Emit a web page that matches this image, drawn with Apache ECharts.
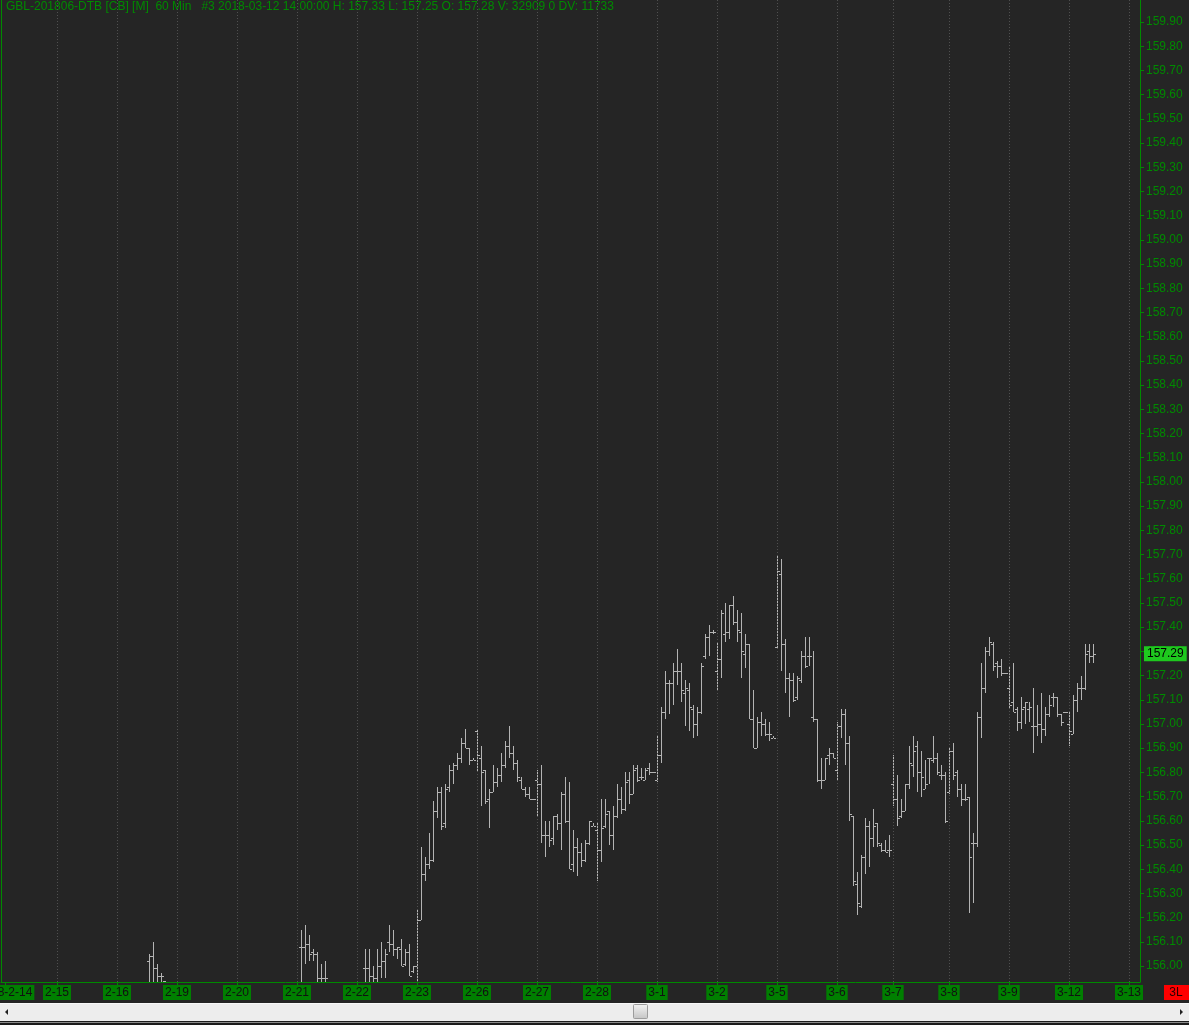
<!DOCTYPE html>
<html>
<head>
<meta charset="utf-8">
<title>GBL-201806-DTB 60 Min</title>
<script src="https://cdn.jsdelivr.net/npm/echarts@6/dist/echarts.min.js"></script>
<style>
  html, body { margin: 0; padding: 0; background: #252525; }
  #chart { width: 1189px; height: 1025px; }
</style>
</head>
<body>
<div id="chart"></div>
<script>
// 日期标签（每个交易日第一根K线处）
const dayLabels = ['2018-2-14', '2-15', '2-16', '2-19', '2-20', '2-21', '2-22', '2-23', '2-26', '2-27',
  '2-28', '3-1', '3-2', '3-5', '3-6', '3-7', '3-8', '3-9', '3-12', '3-13']
const dayStarts = [0, 13, 28, 43, 58, 73, 88, 103, 118, 133, 148, 163, 178, 193, 208, 222, 236, 251, 266, 281]

// 右侧价格刻度
const priceTicks = ['156.00', '156.10', '156.20', '156.30', '156.40', '156.50', '156.60', '156.70', '156.80',
  '156.90', '157.00', '157.10', '157.20', '157.30', '157.40', '157.50', '157.60', '157.70', '157.80',
  '157.90', '158.00', '158.10', '158.20', '158.30', '158.40', '158.50', '158.60', '158.70', '158.80',
  '158.90', '159.00', '159.10', '159.20', '159.30', '159.40', '159.50', '159.60', '159.70', '159.80', '159.90']

// 60分钟K线 (可见部分): 序号, 开, 高, 低, 收
const barIndex = [36, 37, 38, 39, 40,
  74, 75, 76, 77, 78, 79, 80,
  90, 91, 92, 93, 94, 95, 96, 97, 98, 99, 100, 101, 102, 103,
  104, 105, 106, 107, 108, 109, 110, 111, 112, 113, 114, 115, 116, 117,
  118, 119, 120, 121, 122, 123, 124, 125, 126, 127, 128, 129, 130, 131, 132,
  133, 134, 135, 136, 137, 138, 139, 140, 141, 142, 143, 144, 145, 146, 147,
  148, 149, 150, 151, 152, 153, 154, 155, 156, 157, 158, 159, 160, 161, 162,
  163, 164, 165, 166, 167, 168, 169, 170, 171, 172, 173, 174, 175, 176, 177,
  178, 179, 180, 181, 182, 183, 184, 185, 186, 187, 188, 189, 190, 191, 192,
  193, 194, 195, 196, 197, 198, 199, 200, 201, 202, 203, 204, 205, 206, 207,
  208, 209, 210, 211, 212, 213, 214, 215, 216, 217, 218, 219, 220, 221,
  222, 223, 224, 225, 226, 227, 228, 229, 230, 231, 232, 233, 234, 235,
  236, 237, 238, 239, 240, 241, 242, 243, 244, 245, 246, 247, 248, 249, 250,
  251, 252, 253, 254, 255, 256, 257, 258, 259, 260, 261, 262, 263, 264, 265,
  266, 267, 268, 269, 270, 271, 272]
const opens = [156.02, 156.04, 155.99, 155.96, 155.94,
  156.08, 156.08, 156.09, 156.06, 156.05, 155.95, 155.95,
  155.99, 155.99, 155.96, 155.95, 156.00, 156.02, 156.10, 156.09, 156.07, 156.07, 156.01, 156.06, 155.98, 156.00,
  156.19, 156.38, 156.42, 156.44, 156.64, 156.72, 156.59, 156.74, 156.81, 156.83, 156.86, 156.92, 156.90, 156.85,
  156.97, 156.86, 156.81, 156.69, 156.72, 156.76, 156.79, 156.83, 156.91, 156.88, 156.84, 156.77, 156.73, 156.71, 156.69,
  156.77, 156.75, 156.54, 156.54, 156.53, 156.62, 156.59, 156.71, 156.60, 156.42, 156.49, 156.47, 156.44, 156.51, 156.58,
  156.56, 156.48, 156.58, 156.64, 156.54, 156.62, 156.69, 156.65, 156.77, 156.71, 156.82, 156.78, 156.77, 156.82, 156.80,
  156.77, 156.87, 157.05, 157.17, 157.17, 157.22, 157.22, 157.13, 157.14, 157.06, 157.00, 157.05, 157.28, 157.36, 157.38,
  157.22, 157.27, 157.37, 157.38, 157.49, 157.42, 157.38, 157.29, 157.33, 157.02, 156.90, 157.01, 157.00, 156.96, 156.94,
  157.32, 157.62, 157.33, 157.19, 157.18, 157.11, 157.18, 157.28, 157.28, 157.03, 157.02, 156.77, 156.77, 156.87, 156.88,
  156.81, 156.99, 157.04, 156.92, 156.62, 156.34, 156.25, 156.45, 156.58, 156.53, 156.59, 156.50, 156.48, 156.48,
  156.75, 156.69, 156.62, 156.64, 156.75, 156.83, 156.91, 156.80, 156.73, 156.86, 156.85, 156.86, 156.79, 156.79,
  156.72, 156.89, 156.80, 156.73, 156.69, 156.70, 156.51, 156.51, 157.03, 157.15, 157.30, 157.33, 157.25, 157.24, 157.21,
  157.15, 157.09, 157.06, 157.01, 157.07, 157.06, 156.99, 156.99, 157.00, 156.98, 157.04, 157.11, 157.11, 157.04, 157.05,
  157.00, 156.96, 157.10, 157.15, 157.15, 157.30, 157.28]
const highs = [156.05, 156.10, 156.01, 155.97, 155.94,
  156.15, 156.17, 156.13, 156.07, 156.06, 156.01, 156.02,
  156.07, 156.07, 156.00, 156.07, 156.10, 156.07, 156.17, 156.15, 156.08, 156.11, 156.07, 156.09, 156.00, 156.23,
  156.49, 156.45, 156.55, 156.68, 156.74, 156.74, 156.75, 156.83, 156.84, 156.88, 156.94, 156.98, 156.90, 156.86,
  156.98, 156.91, 156.81, 156.73, 156.83, 156.82, 156.88, 156.93, 156.99, 156.91, 156.85, 156.78, 156.74, 156.74, 156.69,
  156.81, 156.83, 156.60, 156.60, 156.62, 156.63, 156.72, 156.78, 156.76, 156.56, 156.53, 156.51, 156.52, 156.60, 156.59,
  156.59, 156.69, 156.69, 156.64, 156.66, 156.75, 156.74, 156.80, 156.80, 156.83, 156.83, 156.82, 156.82, 156.84, 156.80,
  156.95, 157.07, 157.22, 157.18, 157.25, 157.31, 157.25, 157.18, 157.17, 157.08, 157.07, 157.25, 157.37, 157.41, 157.39,
  157.34, 157.47, 157.50, 157.49, 157.53, 157.47, 157.46, 157.37, 157.33, 157.14, 157.03, 157.05, 157.02, 157.01, 156.95,
  157.70, 157.68, 157.35, 157.21, 157.21, 157.20, 157.30, 157.36, 157.36, 157.30, 157.02, 156.86, 156.86, 156.90, 156.88,
  157.01, 157.06, 157.06, 156.95, 156.62, 156.39, 156.46, 156.61, 156.60, 156.65, 156.59, 156.51, 156.52, 156.54,
  156.87, 156.79, 156.69, 156.75, 156.91, 156.95, 156.93, 156.89, 156.85, 156.86, 156.95, 156.88, 156.83, 156.80,
  156.90, 156.92, 156.81, 156.75, 156.75, 156.70, 156.55, 157.05, 157.25, 157.32, 157.36, 157.34, 157.26, 157.27, 157.21,
  157.24, 157.25, 157.07, 157.11, 157.09, 157.09, 157.15, 157.08, 157.13, 157.07, 157.12, 157.13, 157.11, 157.04, 157.05,
  157.05, 157.12, 157.17, 157.20, 157.33, 157.33, 157.33]
const lows = [155.88, 155.88, 155.88, 155.88, 155.88,
  155.88, 156.01, 156.02, 156.02, 155.88, 155.88, 155.88,
  155.88, 155.88, 155.92, 155.90, 155.95, 155.95, 156.06, 156.04, 156.03, 156.00, 156.00, 155.96, 155.97, 155.90,
  156.19, 156.35, 156.40, 156.43, 156.61, 156.56, 156.57, 156.72, 156.75, 156.81, 156.84, 156.90, 156.83, 156.85,
  156.80, 156.66, 156.67, 156.57, 156.72, 156.74, 156.76, 156.82, 156.86, 156.81, 156.76, 156.73, 156.70, 156.69, 156.69,
  156.62, 156.51, 156.45, 156.49, 156.50, 156.56, 156.48, 156.59, 156.40, 156.39, 156.37, 156.41, 156.43, 156.50, 156.58,
  156.35, 156.43, 156.57, 156.50, 156.48, 156.61, 156.63, 156.64, 156.67, 156.71, 156.76, 156.77, 156.77, 156.79, 156.80,
  156.76, 156.84, 157.02, 157.04, 157.08, 157.16, 157.09, 156.99, 156.97, 156.94, 156.95, 157.04, 157.27, 157.28, 157.37,
  157.14, 157.19, 157.34, 157.35, 157.41, 157.34, 157.19, 157.23, 157.02, 156.90, 156.90, 156.95, 156.95, 156.93, 156.94,
  157.31, 157.22, 157.13, 157.03, 157.09, 157.10, 157.17, 157.23, 157.24, 157.01, 156.76, 156.73, 156.77, 156.83, 156.86,
  156.77, 156.94, 156.83, 156.60, 156.33, 156.21, 156.24, 156.38, 156.41, 156.49, 156.49, 156.47, 156.47, 156.45,
  156.66, 156.58, 156.61, 156.64, 156.73, 156.78, 156.72, 156.70, 156.73, 156.75, 156.84, 156.79, 156.77, 156.59,
  156.71, 156.77, 156.70, 156.66, 156.68, 156.22, 156.26, 156.49, 156.94, 157.13, 157.28, 157.22, 157.19, 157.20, 157.21,
  157.06, 157.05, 156.97, 156.98, 157.00, 157.01, 156.88, 156.95, 156.92, 156.95, 157.03, 157.07, 157.03, 156.99, 157.05,
  156.91, 156.96, 157.05, 157.10, 157.14, 157.25, 157.25]
const closes = [156.04, 155.99, 155.96, 155.96, 155.92,
  156.08, 156.09, 156.05, 156.05, 155.95, 155.95, 155.95,
  155.99, 155.96, 155.95, 156.00, 156.02, 156.05, 156.09, 156.07, 156.08, 156.00, 156.06, 155.96, 156.00, 156.19,
  156.38, 156.42, 156.44, 156.64, 156.72, 156.58, 156.73, 156.81, 156.83, 156.86, 156.92, 156.90, 156.85, 156.85,
  156.87, 156.80, 156.68, 156.72, 156.76, 156.79, 156.83, 156.91, 156.88, 156.84, 156.78, 156.73, 156.71, 156.69, 156.69,
  156.75, 156.54, 156.54, 156.52, 156.62, 156.59, 156.71, 156.60, 156.40, 156.49, 156.47, 156.44, 156.51, 156.60, 156.58,
  156.48, 156.57, 156.63, 156.54, 156.62, 156.69, 156.65, 156.76, 156.71, 156.81, 156.77, 156.78, 156.81, 156.80, 156.80,
  156.87, 157.05, 157.17, 157.17, 157.22, 157.22, 157.14, 157.15, 157.07, 157.00, 157.05, 157.24, 157.36, 157.38, 157.38,
  157.27, 157.46, 157.38, 157.49, 157.42, 157.39, 157.30, 157.33, 157.02, 156.90, 157.01, 157.00, 156.96, 156.96, 156.94,
  157.63, 157.33, 157.19, 157.18, 157.10, 157.19, 157.28, 157.24, 157.28, 157.02, 156.77, 156.77, 156.86, 156.88, 156.86,
  156.99, 157.04, 156.92, 156.63, 156.35, 156.26, 156.45, 156.58, 156.53, 156.58, 156.51, 156.48, 156.47, 156.48,
  156.69, 156.61, 156.64, 156.75, 156.84, 156.89, 156.80, 156.78, 156.75, 156.86, 156.86, 156.80, 156.79, 156.60,
  156.89, 156.79, 156.73, 156.69, 156.69, 156.45, 156.51, 157.03, 157.15, 157.30, 157.34, 157.24, 157.24, 157.21, 157.21,
  157.08, 157.05, 157.01, 157.06, 157.09, 157.07, 156.99, 157.00, 156.98, 157.04, 157.08, 157.11, 157.04, 157.01, 157.05,
  156.97, 157.10, 157.15, 157.15, 157.29, 157.28, 157.29]

const green = '#008a00'
const barColor = '#b4b4b4'
const fontFamily = 'Liberation Sans, Arial, sans-serif'

const ohlc = barIndex.map((i, k) => [i, opens[k], highs[k], lows[k], closes[k]])
const lastClose = closes[closes.length - 1]

const chart = echarts.init(document.getElementById('chart'))

// 美式K线: 竖线 + 左开盘 + 右收盘
const renderBar = (params, api) => {
  const x = Math.round(api.coord([api.value(0), 0])[0])
  const yO = Math.round(api.coord([0, api.value(1)])[1])
  const yH = Math.round(api.coord([0, api.value(2)])[1])
  const yL = Math.round(api.coord([0, api.value(3)])[1])
  const yC = Math.round(api.coord([0, api.value(4)])[1])
  const style = { fill: barColor }
  return {
    type: 'group',
    children: [
      { type: 'rect', shape: { x: x, y: yH, width: 1, height: Math.max(1, yL - yH) }, style },
      { type: 'rect', shape: { x: x - 2, y: yO, width: 2, height: 1 }, style },
      { type: 'rect', shape: { x: x + 1, y: yC, width: 2, height: 1 }, style }
    ]
  }
}

const option = {
  animation: false,
  backgroundColor: '#252525',
  textStyle: { fontFamily },
  title: {
    text: 'GBL-201806-DTB [CB] [M]  60 Min   #3 2018-03-12 14:00:00 H: 157.33 L: 157.25 O: 157.28 V: 32909 0 DV: 11733',
    left: 6,
    top: 1,
    padding: 0,
    textStyle: { color: green, fontSize: 12, fontWeight: 'normal', fontFamily }
  },
  grid: {
    left: 1,
    right: 49,
    top: 0,
    bottom: 43,
    outerBoundsMode: 'none'
  },
  xAxis: {
    type: 'value',
    min: -1,
    max: 283.75,
    axisLine: { onZero: false, lineStyle: { color: green } },
    axisTick: { customValues: dayStarts, length: 3, lineStyle: { color: green } },
    axisLabel: {
      customValues: dayStarts,
      formatter: (v) => dayLabels[dayStarts.indexOf(v)] || '',
      color: '#111',
      backgroundColor: '#007f00',
      padding: [1, 2, 1, 2],
      lineHeight: 13,
      fontSize: 12,
      margin: 3,
      hideOverlap: false,
      showMinLabel: true,
      showMaxLabel: true,
      fontFamily
    },
    splitLine: { show: false }
  },
  yAxis: [
    {
      type: 'value',
      position: 'right',
      min: 155.934,
      max: 159.991,
      axisLine: { show: true, onZero: false, lineStyle: { color: green } },
      axisTick: { show: true, customValues: priceTicks.map(Number), length: 4, lineStyle: { color: green } },
      axisLabel: {
        customValues: priceTicks.map(Number),
        formatter: (v) => v.toFixed(2),
        color: green,
        fontSize: 12,
        margin: 6,
        fontFamily
      },
      splitLine: { show: false }
    },
    {
      type: 'value',
      position: 'left',
      min: 155.934,
      max: 159.991,
      axisLine: { show: true, onZero: false, lineStyle: { color: green } },
      axisTick: { show: false },
      axisLabel: { show: false },
      splitLine: { show: false }
    }
  ],
  series: [
    {
      type: 'custom',
      name: 'GBL',
      renderItem: renderBar,
      clip: true,
      encode: { x: 0, y: [1, 2, 3, 4] },
      data: ohlc,
      markLine: {
        silent: true,
        symbol: 'none',
        animation: false,
        z: 10,
        data: [
          ...dayStarts.slice(1).map((d) => ({
            xAxis: d,
            lineStyle: { color: '#505050', type: [1, 2], width: 1 },
            label: { show: false }
          })),
          {
            yAxis: lastClose,
            lineStyle: { color: 'rgba(0,0,0,0)', width: 0 },
            label: {
              show: true,
              position: 'end',
              distance: 4,
              formatter: lastClose.toFixed(2),
              color: '#000',
              backgroundColor: '#1ec81e',
              padding: [2, 3, 1, 3],
              fontSize: 12,
              fontFamily
            }
          }
        ]
      }
    }
  ],
  graphic: [
    // 滚动条
    { type: 'rect', shape: { x: 0, y: 1003, width: 1189, height: 18 }, style: { fill: '#ededed' }, silent: true },
    { type: 'rect', shape: { x: 0, y: 1003, width: 1189, height: 1 }, style: { fill: '#f8f8f8' }, silent: true },
    {
      type: 'rect',
      shape: { x: 633.5, y: 1004.5, width: 14, height: 14, r: 1 },
      style: {
        fill: new echarts.graphic.LinearGradient(0, 0, 0, 1, [
          { offset: 0, color: '#f4f4f4' },
          { offset: 1, color: '#c4c4c4' }
        ]),
        stroke: '#9c9c9c',
        lineWidth: 1
      },
      silent: true
    },
    { type: 'polygon', shape: { points: [[8, 1009], [8, 1015], [5, 1012]] }, style: { fill: '#222' }, silent: true },
    { type: 'polygon', shape: { points: [[1180, 1009], [1180, 1015], [1183, 1012]] }, style: { fill: '#222' }, silent: true },
    { type: 'rect', shape: { x: 0, y: 1021, width: 1189, height: 4 }, style: { fill: '#1c1c1c' }, silent: true },
    { type: 'rect', shape: { x: 0, y: 1022, width: 1189, height: 1 }, style: { fill: '#8a8a8a' }, silent: true },
    // 右下角标记
    { type: 'rect', shape: { x: 1164, y: 985, width: 25, height: 15 }, style: { fill: '#ff0000' }, silent: true },
    {
      type: 'text',
      x: 1176,
      y: 992.5,
      style: { text: '3L', fill: '#2a0000', font: '12px ' + fontFamily, align: 'center', verticalAlign: 'middle' },
      silent: true
    }
  ]
}

chart.setOption(option)

window.addEventListener('resize', () => {
  chart && chart.resize()
})
</script>
</body>
</html>
